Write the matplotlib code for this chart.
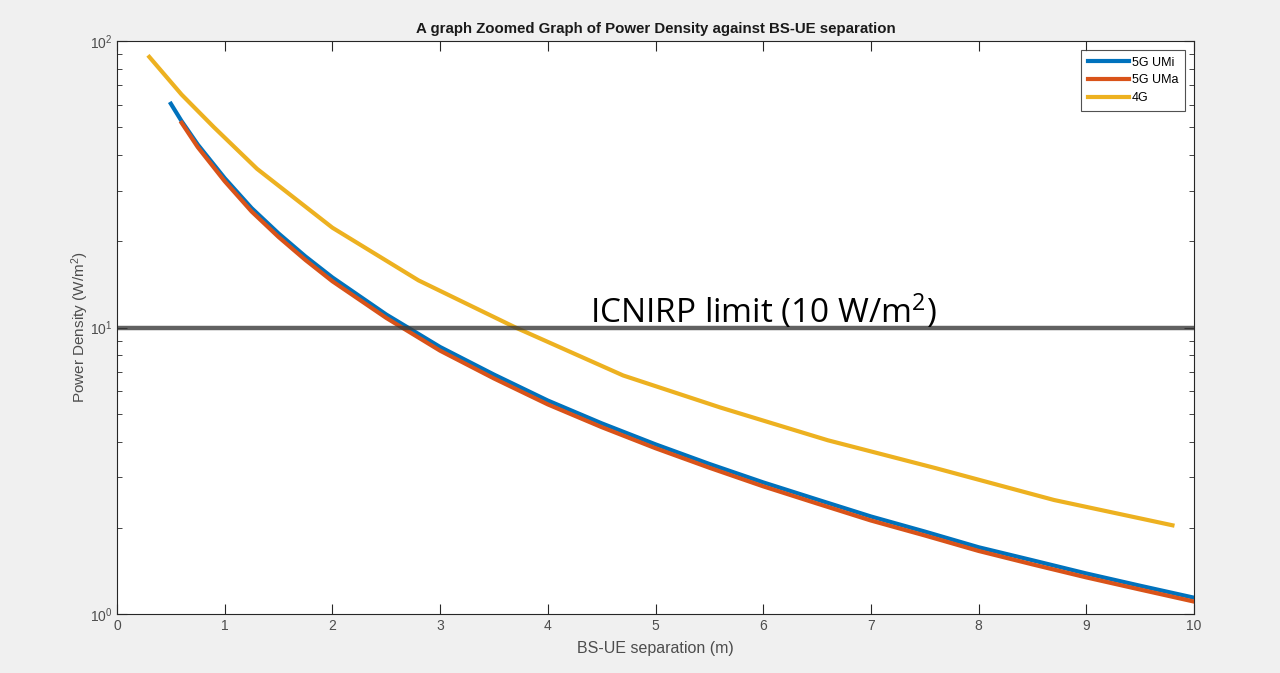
import numpy as np
import matplotlib
matplotlib.use("Agg")
import matplotlib.pyplot as plt
from matplotlib.ticker import LogLocator, NullFormatter

# separation (m) and power density (W/m^2)
umi_x = [0.5, 0.6, 0.75, 1, 1.25, 1.5, 1.75, 2, 2.5, 3, 3.5, 4, 4.5, 5, 5.5, 6, 6.5,
         7, 7.5, 8, 8.5, 9, 9.5, 10]
umi_y = [60.4, 52.5, 43.5, 33.2, 26.1, 21.3, 17.7, 14.95, 11.1, 8.55, 6.85, 5.56, 4.63,
         3.91, 3.34, 2.88, 2.51, 2.19, 1.94, 1.71, 1.54, 1.385, 1.255, 1.14]

uma_x = [0.6, 0.75, 1, 1.25, 1.5, 1.75, 2, 2.5, 3, 3.5, 4, 4.5, 5, 5.5, 6, 6.5,
         7, 7.5, 8, 8.5, 9, 9.5, 10]
uma_y = [51.8, 42.6, 32.4, 25.4, 20.7, 17.2, 14.5, 10.8, 8.3, 6.64, 5.39, 4.49,
         3.79, 3.24, 2.79, 2.43, 2.12, 1.88, 1.66, 1.49, 1.342, 1.217, 1.105]

lte_x = [0.3, 0.6, 0.9, 1.3, 2.0, 2.8, 3.7, 4.7, 5.6, 6.6, 7.6, 8.7, 9.8]
lte_y = [88, 65, 50, 35.8, 22.3, 14.6, 10.0, 6.8, 5.26, 4.04, 3.23, 2.5, 2.04]

icnirp = 10

plt.rcParams['font.family'] = ['Liberation Sans', 'DejaVu Sans']
plt.rcParams['mathtext.default'] = 'regular'

fig = plt.figure(figsize=(12.8, 6.73), dpi=100, facecolor='#f0f0f0')
ax = fig.add_axes([117/1280, 1 - 614/673, (1194-117)/1280, (614-41)/673])

ax.plot(umi_x, umi_y, color='#0072BD', lw=3, label='5G UMi')
ax.plot(uma_x, uma_y, color='#D95319', lw=3, label='5G UMa')
ax.plot(lte_x, lte_y, color='#EDB120', lw=3, label='4G')
ax.axhline(icnirp, color='#3a3a3a', lw=3.2, alpha=0.8)
ax.text(4.39, 10.4, 'ICNIRP limit (10 W/m$^2$)', fontsize=24, family=['Open Sans', 'DejaVu Sans'],
        va='baseline', ha='left')

ax.set_yscale('log')
ax.set_xlim(0, 10)
ax.set_ylim(1, 100)
ax.set_xticks(range(11))
ax.yaxis.set_minor_locator(LogLocator(base=10, subs=np.arange(2, 10)))
ax.yaxis.set_minor_formatter(NullFormatter())
ax.tick_params(which='both', direction='in', top=True, right=True, colors='#262626',
               labelcolor='#4d4d4d', labelsize=10)
ax.tick_params(which='major', length=7)
ax.tick_params(which='minor', length=3.5)
for s in ax.spines.values():
    s.set_color('#262626')
    s.set_linewidth(0.8)

ax.set_title('A graph Zoomed Graph of Power Density against BS-UE separation',
             fontsize=10.8, fontweight='bold', color='#1a1a1a', pad=6)
ax.set_xlabel('BS-UE separation (m)', fontsize=11.5, color='#4d4d4d', labelpad=6)
ax.set_ylabel('Power Density (W/m$^2$)', fontsize=11, color='#4d4d4d', labelpad=-1)

leg = ax.legend(loc='upper right', fontsize=9, frameon=True, fancybox=False,
                edgecolor='#262626', handlelength=3.3, borderpad=0.55, labelspacing=0.45,
                handletextpad=0.2, borderaxespad=0.7)
leg.get_frame().set_linewidth(0.8)

fig.savefig('out.png', dpi=100, facecolor=fig.get_facecolor())
